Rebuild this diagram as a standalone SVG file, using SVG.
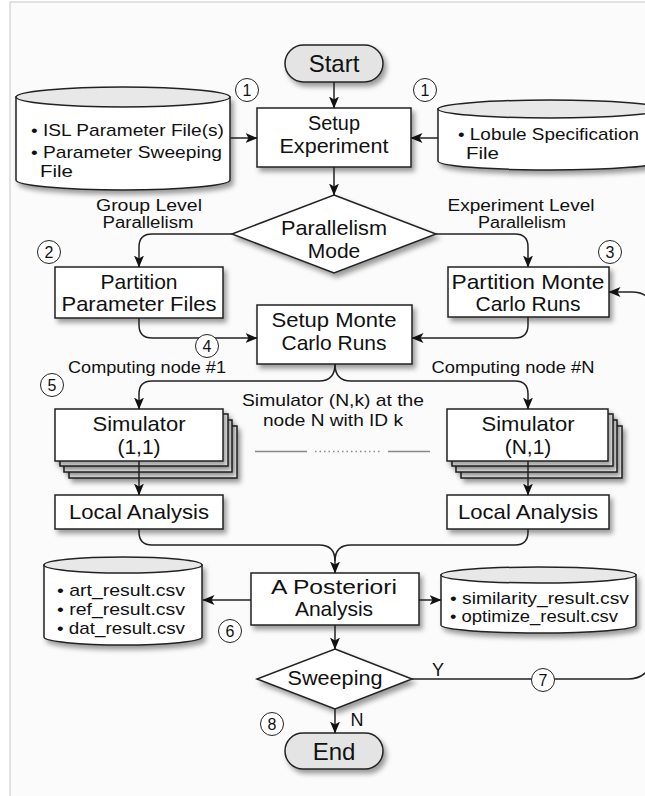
<svg xmlns="http://www.w3.org/2000/svg" width="645" height="796" viewBox="0 0 645 796">
<defs>
<filter id="sh" x="-10%" y="-20%" width="130%" height="150%"><feDropShadow dx="3" dy="4" stdDeviation="2.5" flood-color="#000" flood-opacity="0.38"/></filter>
<marker id="ah" viewBox="0 0 12 10" refX="11.5" refY="5" markerWidth="12" markerHeight="10" markerUnits="userSpaceOnUse" orient="auto"><path d="M0,0 L12,5 L0,10 L3,5 z" fill="#111"/></marker>
</defs>
<style>
text{font-family:"Liberation Sans",Arial,sans-serif;fill:#111}
.box{fill:#fff;stroke:#222;stroke-width:1.5;filter:url(#sh)}
.pill{fill:#e4e4e4;stroke:#222;stroke-width:1.5;filter:url(#sh)}
.cyl{fill:#fff;stroke:#222;stroke-width:1.5;filter:url(#sh)}
.cylt{fill:#e8e8e8;stroke:#222;stroke-width:1.5}
.t22{font-size:21px;text-anchor:middle}
.t24{font-size:24px;text-anchor:middle}
.lab{font-size:16px;text-anchor:middle}
.bul{font-size:17px}
.num circle{fill:#fff;stroke:#222;stroke-width:1}
.num text{font-size:16px;text-anchor:middle}
.c{fill:none;stroke:#222;stroke-width:1.5}
.ca{fill:none;stroke:#222;stroke-width:1.5;marker-end:url(#ah)}
.dash{stroke:#888;stroke-width:1.5}
</style>
<rect x="0" y="0" width="645" height="796" fill="#fff"/>
<rect x="10" y="2" width="640" height="800" fill="#fbfbfb" stroke="#c8c8c8" stroke-width="1"/>

<g id="start"><rect class="pill" x="285" y="45" width="98" height="37" rx="18.5"/><text class="t24" x="334" y="72">Start</text></g>

<g id="isl-files">
<path class="cyl" d="M16,97 V180 A107,10 0 0 0 230,180 V97 Z"/>
<ellipse class="cylt" cx="123" cy="97" rx="107" ry="10"/>
<text class="bul" x="31" y="136" textLength="193" lengthAdjust="spacingAndGlyphs">• ISL Parameter File(s)</text>
<text class="bul" x="31" y="158" textLength="191" lengthAdjust="spacingAndGlyphs">• Parameter Sweeping</text>
<text class="bul" x="40" y="177" textLength="33" lengthAdjust="spacingAndGlyphs">File</text>
</g>

<g id="setup-experiment"><rect class="box" x="257" y="108" width="154" height="59"/><text class="t22" x="334" y="130" textLength="52" lengthAdjust="spacingAndGlyphs">Setup</text><text class="t22" x="334" y="153" textLength="109" lengthAdjust="spacingAndGlyphs">Experiment</text></g>

<g id="lobule-file">
<path class="cyl" d="M438,109 V161 A112,9 0 0 0 662,161 V109 Z"/>
<ellipse class="cylt" cx="550" cy="109" rx="112" ry="9"/>
<text class="bul" x="458" y="140" textLength="181" lengthAdjust="spacingAndGlyphs">• Lobule Specification</text>
<text class="bul" x="466" y="159" textLength="33" lengthAdjust="spacingAndGlyphs">File</text>
</g>

<g id="parallelism-mode"><polygon class="box" points="334,195 436,234 334,273 232,234"/><text class="t22" x="334" y="235" textLength="106" lengthAdjust="spacingAndGlyphs">Parallelism</text><text class="t22" x="334" y="258">Mode</text></g>

<g id="label-group"><text class="lab" x="149" y="211" textLength="106" lengthAdjust="spacingAndGlyphs">Group Level</text><text class="lab" x="148" y="228" textLength="91" lengthAdjust="spacingAndGlyphs">Parallelism</text></g>
<g id="label-experiment"><text class="lab" x="521" y="211" textLength="147" lengthAdjust="spacingAndGlyphs">Experiment Level</text><text class="lab" x="522" y="228" textLength="88" lengthAdjust="spacingAndGlyphs">Parallelism</text></g>

<g id="partition-parameter-files"><rect class="box" x="55" y="267" width="168" height="51"/><text class="t22" x="139" y="289">Partition</text><text class="t22" x="139" y="311" textLength="155" lengthAdjust="spacingAndGlyphs">Parameter Files</text></g>
<g id="partition-monte-carlo"><rect class="box" x="448" y="267" width="161" height="50"/><text class="t22" x="528" y="289" textLength="153" lengthAdjust="spacingAndGlyphs">Partition Monte</text><text class="t22" x="528" y="311">Carlo Runs</text></g>

<g id="setup-monte-carlo"><rect class="box" x="257" y="305" width="155" height="59"/><text class="t22" x="334" y="327" textLength="125" lengthAdjust="spacingAndGlyphs">Setup Monte</text><text class="t22" x="334" y="350">Carlo Runs</text></g>

<g id="label-node1"><text style="font-size:16.5px;text-anchor:middle" x="147" y="373" textLength="158" lengthAdjust="spacingAndGlyphs">Computing node #1</text></g>
<g id="label-nodeN"><text style="font-size:16.5px;text-anchor:middle" x="513" y="373" textLength="163" lengthAdjust="spacingAndGlyphs">Computing node #N</text></g>
<g id="label-simulator"><text style="font-size:17px;text-anchor:middle" x="333" y="406" textLength="182" lengthAdjust="spacingAndGlyphs">Simulator (N,k) at the</text><text style="font-size:17px;text-anchor:middle" x="333" y="426" textLength="140" lengthAdjust="spacingAndGlyphs">node N with ID k</text></g>

<g id="simulator-1-1">
<rect class="box" x="69" y="426" width="168" height="52"/>
<rect class="box" x="64" y="420" width="168" height="52"/>
<rect class="box" x="60" y="414" width="168" height="52"/>
<rect class="box" x="55" y="409" width="168" height="52"/>
<text class="t22" x="139" y="431" textLength="93" lengthAdjust="spacingAndGlyphs">Simulator</text><text class="t22" x="139" y="454">(1,1)</text>
</g>
<g id="simulator-n-1">
<rect class="box" x="461" y="426" width="161" height="52"/>
<rect class="box" x="456" y="420" width="161" height="52"/>
<rect class="box" x="452" y="414" width="161" height="52"/>
<rect class="box" x="447" y="409" width="161" height="52"/>
<text class="t22" x="528" y="431" textLength="93" lengthAdjust="spacingAndGlyphs">Simulator</text><text class="t22" x="528" y="454">(N,1)</text>
</g>
<g id="ellipsis"><line class="dash" x1="255" y1="451.5" x2="307" y2="451.5"/><line class="dash" x1="315" y1="451.5" x2="381" y2="451.5" stroke-dasharray="1.5 3"/><line class="dash" x1="388" y1="451.5" x2="430" y2="451.5"/></g>

<g id="local-analysis-1"><rect class="box" x="55" y="495" width="168" height="34"/><text class="t22" x="139" y="519" textLength="140" lengthAdjust="spacingAndGlyphs">Local Analysis</text></g>
<g id="local-analysis-n"><rect class="box" x="447" y="495" width="162" height="34"/><text class="t22" x="528" y="519" textLength="140" lengthAdjust="spacingAndGlyphs">Local Analysis</text></g>

<g id="result-files-left">
<path class="cyl" d="M44,565 V637 A79,8 0 0 0 202,637 V565 Z"/>
<ellipse class="cylt" cx="123" cy="565" rx="79" ry="8"/>
<text class="bul" x="57" y="596" textLength="128" lengthAdjust="spacingAndGlyphs">• art_result.csv</text>
<text class="bul" x="57" y="615" textLength="128" lengthAdjust="spacingAndGlyphs">• ref_result.csv</text>
<text class="bul" x="57" y="634" textLength="128" lengthAdjust="spacingAndGlyphs">• dat_result.csv</text>
</g>

<g id="a-posteriori"><rect class="box" x="251" y="573" width="168" height="52"/><text class="t22" x="334" y="594" textLength="126" lengthAdjust="spacingAndGlyphs">A Posteriori</text><text class="t22" x="334" y="616">Analysis</text></g>

<g id="result-files-right">
<path class="cyl" d="M441,575 V625 A97.5,8 0 0 0 636,625 V575 Z"/>
<ellipse class="cylt" cx="538.5" cy="575" rx="97.5" ry="8"/>
<text style="font-size:16px" x="450" y="604" textLength="179" lengthAdjust="spacingAndGlyphs">• similarity_result.csv</text>
<text style="font-size:16px" x="450" y="622" textLength="168" lengthAdjust="spacingAndGlyphs">• optimize_result.csv</text>
</g>

<g id="sweeping"><polygon class="box" points="335,649 412,679 335,709 257,679"/><text class="t22" x="335" y="685" textLength="95" lengthAdjust="spacingAndGlyphs">Sweeping</text></g>

<g id="end"><rect class="pill" x="285" y="733" width="98" height="36" rx="18"/><text class="t24" x="334" y="760">End</text></g>

<g id="connectors">
<path class="ca" d="M334,82 V108"/>
<path class="ca" d="M230,138 H257"/>
<path class="ca" d="M438,138 H411"/>
<path class="ca" d="M334,167 V195"/>
<path class="ca" d="M232,234 H152 Q139,234 139,247 V267"/>
<path class="ca" d="M436,234 H515 Q528,234 528,247 V267"/>
<path class="ca" d="M139,318 V325 Q139,338 152,338 H257"/>
<path class="ca" d="M528,317 V325 Q528,338 515,338 H412"/>
<path class="ca" d="M335,364 Q335,381 319,381 H152 Q139,381 139,394 V409"/>
<path class="ca" d="M335,364 Q335,381 351,381 H515 Q528,381 528,394 V409"/>
<path class="ca" d="M139,461 V495"/>
<path class="ca" d="M528,461 V495"/>
<path class="c" d="M139,529 V532 Q139,545 152,545 H319 Q335,545 335,561"/>
<path class="ca" d="M528,529 V532 Q528,545 515,545 H351 Q335,545 335,561 V573"/>
<path class="ca" d="M251,600 H203"/>
<path class="ca" d="M419,600 H441"/>
<path class="ca" d="M335,625 V649"/>
<path class="ca" d="M412,679 H628 Q646,679 652,662 V312 Q652,292 632,292 H609"/>
<path class="ca" d="M335,709 V733"/>
<text style="font-size:18px;text-anchor:middle" x="438" y="676">Y</text>
<text style="font-size:18px;text-anchor:middle" x="357" y="726">N</text>
</g>

<g id="step-numbers" class="num">
<g><circle cx="247" cy="90" r="11.5"/><text x="247" y="96">1</text></g>
<g><circle cx="425" cy="90" r="11.5"/><text x="425" y="96">1</text></g>
<g><circle cx="49" cy="252" r="11.5"/><text x="49" y="258">2</text></g>
<g><circle cx="610" cy="252" r="11.5"/><text x="610" y="258">3</text></g>
<g><circle cx="207" cy="346" r="11.5"/><text x="207" y="352">4</text></g>
<g><circle cx="52" cy="385" r="11.5"/><text x="52" y="391">5</text></g>
<g><circle cx="230" cy="631" r="11.5"/><text x="230" y="637">6</text></g>
<g><circle cx="543" cy="680" r="11.5"/><text x="543" y="686">7</text></g>
<g><circle cx="272" cy="724" r="11.5"/><text x="272" y="730">8</text></g>
</g>
</svg>
